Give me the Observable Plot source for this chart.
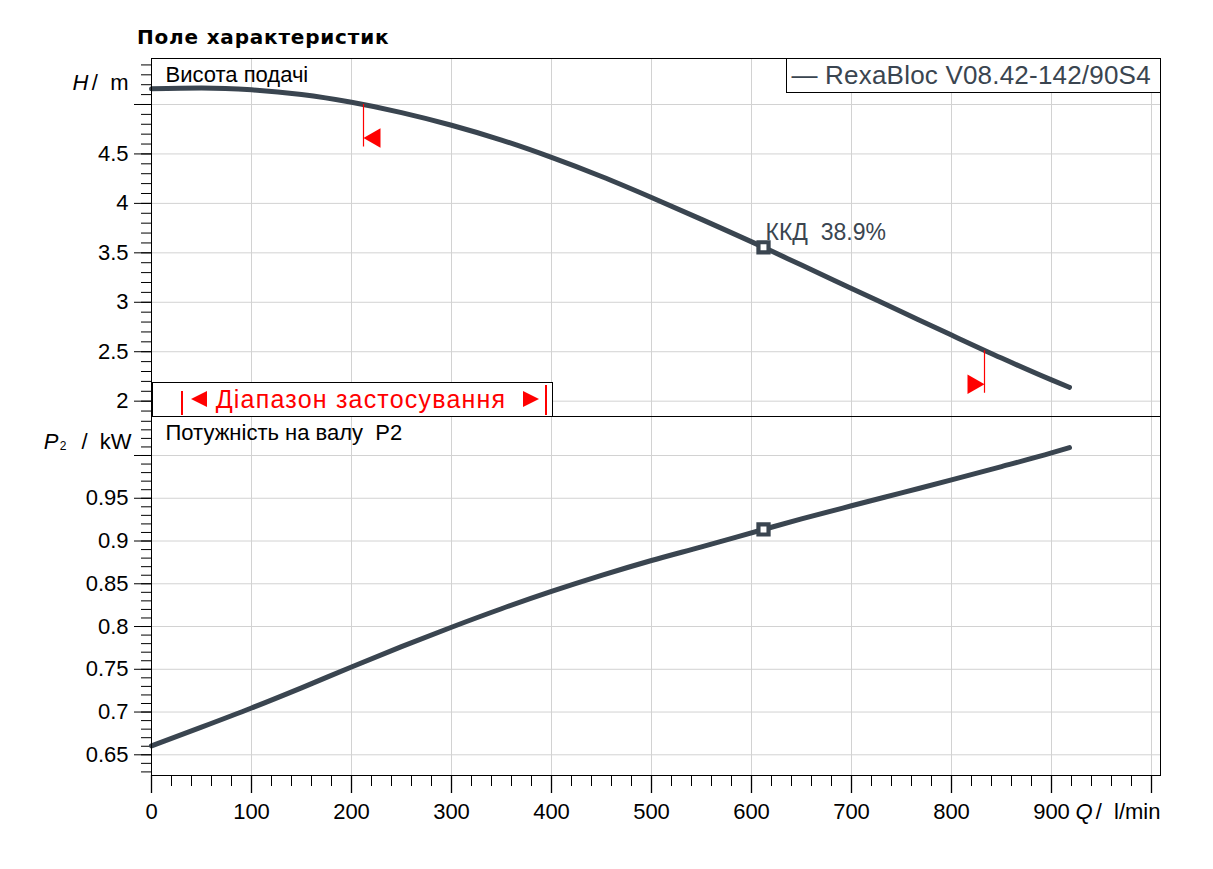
<!DOCTYPE html>
<html>
<head>
<meta charset="utf-8">
<script src="https://cdn.jsdelivr.net/npm/d3@7"></script>
<script src="https://cdn.jsdelivr.net/npm/@observablehq/plot@0.6"></script>
<style>
  html, body { margin: 0; padding: 0; background: #fff; }
  #wrap { position: relative; width: 1213px; height: 869px; overflow: hidden; font-family: 'Liberation Sans', Arial, sans-serif; }
  #top, #bottom { position: absolute; left: 0; }
  #top { top: 0; }
  #bottom { top: 416px; }
  #title { position: absolute; left: 137px; top: 27px; font: bold 20px/20px 'DejaVu Sans', Verdana, sans-serif; letter-spacing: 0.8px; color: #000; white-space: nowrap; }
  #legend { position: absolute; left: 785.5px; top: 58px; width: 375px; height: 35px; box-sizing: border-box; border: 1px solid #000; background: #fff; color: #3a4550; font-size: 26px; letter-spacing: 0.2px; line-height: 32px; padding-left: 5px; white-space: nowrap; }
  #range { position: absolute; left: 151.5px; top: 382px; width: 401px; height: 35px; box-sizing: border-box; border: 1px solid #000; background: #fff; }
  #range .txt { position: absolute; left: 8.5px; width: 400px; top: 0; text-align: center; color: #ff0000; font-size: 25px; line-height: 32px; white-space: nowrap; letter-spacing: 1.2px; }
  #range .bar { position: absolute; width: 2px; background: #ff0000; }
  #range .tl { position: absolute; width: 0; height: 0; border-top: 8px solid transparent; border-bottom: 8px solid transparent; border-right: 16px solid #ff0000; }
  #range .tr { position: absolute; width: 0; height: 0; border-top: 8px solid transparent; border-bottom: 8px solid transparent; border-left: 16px solid #ff0000; }
</style>
</head>
<body>
<div id="wrap">
  <div id="top"></div>
  <div id="bottom"></div>
  <div id="title">Поле характеристик</div>
  <div id="legend">— RexaBloc V08.42-142/90S4</div>
  <div id="range">
    <div class="bar" style="left:28px; top:8px; height:24px;"></div>
    <div class="tl" style="left:38px; top:7.5px;"></div>
    <div class="txt">Діапазон застосування</div>
    <div class="tr" style="left:370px; top:7.5px;"></div>
    <div class="bar" style="left:392.5px; top:2px; height:30px;"></div>
  </div>
</div>
<script>
// ---- data ----
const flowQ   = [0, 50, 100, 150, 200, 250, 300, 350, 400, 450, 500, 550, 612, 650, 700, 750, 800, 850, 900, 918];
const headH   = [5.158, 5.166, 5.148, 5.100, 5.022, 4.918, 4.790, 4.640, 4.465, 4.272, 4.060, 3.838, 3.556, 3.376, 3.140, 2.904, 2.668, 2.436, 2.215, 2.140];
const powerP2 = [0.6605, 0.6823, 0.7047, 0.7283, 0.7527, 0.7765, 0.7992, 0.8208, 0.8410, 0.8598, 0.8772, 0.8932, 0.9135, 0.9258, 0.9412, 0.9563, 0.9714, 0.9870, 1.0030, 1.0092];

const dutyQ = [612];
const dutyH = [3.556];
const dutyP = [0.9135];
const effText = ["ККД\u00a0 38.9%"];

const rangeMinQ = [212];
const rangeMinH = [5.0];
const rangeMaxQ = [833];
const rangeMaxH = [2.51];

const xTicks = [0, 100, 200, 300, 400, 500, 600, 700, 800, 900, 1000];
const xTickLabels = ["0", "100", "200", "300", "400", "500", "600", "700", "800", "900", ""];
const hTicks = [2, 2.5, 3, 3.5, 4, 4.5, 5];
const hTickLabels = ["2", "2.5", "3", "3.5", "4", "4.5", ""];
const pTicks = [0.65, 0.7, 0.75, 0.8, 0.85, 0.9, 0.95, 1.0];
const pTickLabels = ["0.65", "0.7", "0.75", "0.8", "0.85", "0.9", "0.95", ""];

// ---- build ----
const curveColor = "#3a4550";
const gridColor = "#d2d2d2";
const headRows = flowQ.map((q, i) => ({q, v: headH[i]}));
const powerRows = flowQ.map((q, i) => ({q, v: powerP2[i]}));
const dutyHeadRows = dutyQ.map((q, i) => ({q, v: dutyH[i], t: effText[i]}));
const dutyPowerRows = dutyQ.map((q, i) => ({q, v: dutyP[i]}));
const minRows = rangeMinQ.map((q, i) => ({q, v: rangeMinH[i]}));
const maxRows = rangeMaxQ.map((q, i) => ({q, v: rangeMaxH[i]}));
const xLab = new Map(xTicks.map((d, i) => [d, xTickLabels[i]]));
const hLab = new Map(hTicks.map((d, i) => [d, hTickLabels[i]]));
const pLab = new Map(pTicks.map((d, i) => [d, pTickLabels[i]]));
const xMinor = d3.range(0, 1001, 20);
const hMinor = d3.range(19, 55).map(d => d / 10);
const pMinor = d3.range(63, 105).map(d => d / 100);
const markLen = 0.43;

const style = {fontFamily: "'Liberation Sans', Arial, sans-serif", fontSize: "22px", background: "transparent", overflow: "visible", color: "#000"};
const lbl = {text: d => d, fill: "#000", lineAnchor: "middle"};

const topPlot = Plot.plot({
  width: 1213, height: 416,
  marginLeft: 151, marginRight: 53, marginTop: 58, marginBottom: 0,
  style,
  x: {domain: [0, 1009], axis: null, label: null},
  y: {domain: [1.845, 5.465], axis: null, label: null},
  marks: [
    Plot.gridX(xTicks, {stroke: gridColor, strokeOpacity: 1}),
    Plot.gridY(hTicks, {stroke: gridColor, strokeOpacity: 1}),
    Plot.axisY(hMinor, {tickSize: 10, tickFormat: () => "", label: null}),
    Plot.axisY(hTicks, {tickSize: 17, tickPadding: 6, tickFormat: d => hLab.get(d), label: null}),
    Plot.line(headRows, {x: "q", y: "v", curve: "monotone-x", stroke: curveColor, strokeWidth: 5, strokeLinecap: "round"}),
    Plot.ruleX(minRows, {x: "q", y1: "v", y2: d => d.v - markLen, stroke: "#ff0000", strokeWidth: 1.2}),
    Plot.ruleX(maxRows, {x: "q", y1: "v", y2: d => d.v - markLen, stroke: "#ff0000", strokeWidth: 1.2}),
    Plot.dot(minRows, {x: "q", y: d => d.v - markLen, symbol: "triangle", r: 7.3, fill: "#ff0000", stroke: "none", rotate: -90, dx: 11.3, dy: -9}),
    Plot.dot(maxRows, {x: "q", y: d => d.v - markLen, symbol: "triangle", r: 7.3, fill: "#ff0000", stroke: "none", rotate: 90, dx: -11.3, dy: -9}),
    Plot.dot(dutyHeadRows, {x: "q", y: "v", symbol: "square", r: 5.7, fill: "#fff", stroke: curveColor, strokeWidth: 4.2}),
    Plot.text(dutyHeadRows, {x: "q", y: "v", text: "t", textAnchor: "start", dx: 2, dy: -15, fill: curveColor, fontSize: 23}),
    Plot.text(["Висота подачі"], {...lbl, frameAnchor: "top-left", textAnchor: "start", dx: 14, dy: 16}),
    Plot.text(["/\u00a0 m"], {...lbl, frameAnchor: "top-left", textAnchor: "end", dx: -23, dy: 24}),
    Plot.text(["H"], {...lbl, frameAnchor: "top-left", textAnchor: "end", dx: -63, dy: 24, fontStyle: "italic"}),
    Plot.frame({stroke: "#000", strokeWidth: 1})
  ]
});
document.getElementById("top").appendChild(topPlot);

const bottomPlot = Plot.plot({
  width: 1213, height: 453,
  marginLeft: 151, marginRight: 53, marginTop: 0, marginBottom: 94,
  style,
  x: {domain: [0, 1009], axis: null, label: null},
  y: {domain: [0.6258, 1.0456], axis: null, label: null},
  marks: [
    Plot.gridX(xTicks, {stroke: gridColor, strokeOpacity: 1}),
    Plot.gridY(pTicks, {stroke: gridColor, strokeOpacity: 1}),
    Plot.axisY(pMinor, {tickSize: 10, tickFormat: () => "", label: null}),
    Plot.axisY(pTicks, {tickSize: 17, tickPadding: 6, tickFormat: d => pLab.get(d), label: null}),
    Plot.axisX(xMinor, {tickSize: 11, tickFormat: () => "", label: null}),
    Plot.axisX(xTicks, {tickSize: 18, tickPadding: 10, tickFormat: d => xLab.get(d), label: null, strokeWidth: 1.3}),
    Plot.line(powerRows, {x: "q", y: "v", curve: "monotone-x", stroke: curveColor, strokeWidth: 5, strokeLinecap: "round"}),
    Plot.dot(dutyPowerRows, {x: "q", y: "v", symbol: "square", r: 5.7, fill: "#fff", stroke: curveColor, strokeWidth: 4.2}),
    Plot.text(["Потужність на валу\u00a0 P2"], {...lbl, frameAnchor: "top-left", textAnchor: "start", dx: 14, dy: 16}),
    Plot.text(["/\u00a0 kW"], {...lbl, frameAnchor: "top-left", textAnchor: "end", dx: -20, dy: 25}),
    Plot.text(["2"], {...lbl, frameAnchor: "top-left", textAnchor: "end", dx: -85, dy: 30, fontSize: 12}),
    Plot.text(["P"], {...lbl, frameAnchor: "top-left", textAnchor: "end", dx: -93, dy: 25, fontStyle: "italic"}),
    Plot.text(["/\u00a0 l/min"], {...lbl, frameAnchor: "bottom-right", textAnchor: "end", dx: 0, dy: 36}),
    Plot.text(["Q"], {...lbl, frameAnchor: "bottom-right", textAnchor: "end", dx: -68, dy: 36, fontStyle: "italic"}),
    Plot.frame({stroke: "#000", strokeWidth: 1})
  ]
});
document.getElementById("bottom").appendChild(bottomPlot);
</script>
</body>
</html>
